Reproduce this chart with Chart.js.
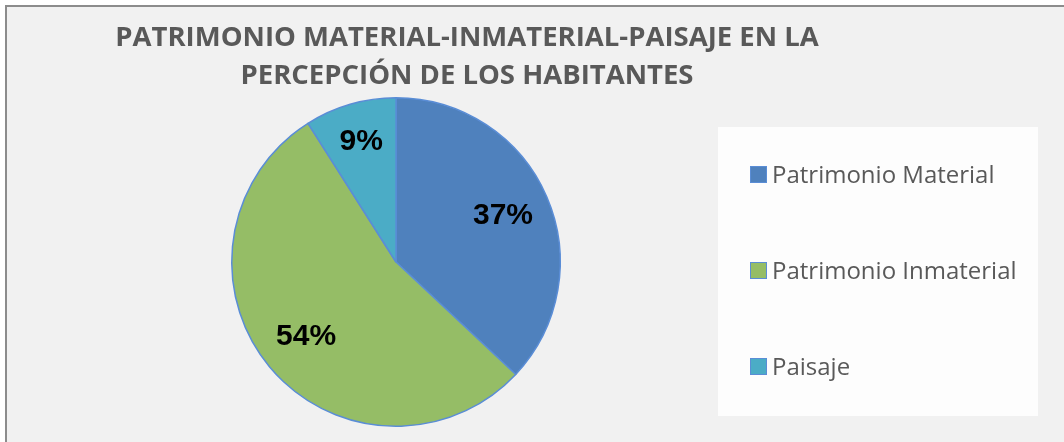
<!DOCTYPE html>
<html>
<head>
<meta charset="utf-8">
<script src="https://cdn.jsdelivr.net/npm/chart.js@4"></script>
<style>
  html, body { margin: 0; padding: 0; background: #ffffff; }
  #frame {
    position: absolute; left: 5px; top: 5px; width: 1100px; height: 480px;
    border-left: 2px solid #8c8c8c; border-top: 2px solid #8c8c8c;
    background: #f1f1f1;
  }
  #chart { position: absolute; left: 0; top: 0; }
</style>
</head>
<body>
<div id="frame"></div>
<canvas id="chart" width="1064" height="442"></canvas>
<script>
const titleLines = ["PATRIMONIO MATERIAL-INMATERIAL-PAISAJE EN LA", "PERCEPCIÓN DE LOS HABITANTES"];
const categories = ["Patrimonio Material", "Patrimonio Inmaterial", "Paisaje"];
const shares = [37, 54, 9];
const sliceColors = ["#4f81bd", "#95bd66", "#4bacc6"];

// titre dessiné à la main (centré hors de la zone du graphique)
const titlePlugin = {
  id: "titleLines",
  afterDraw(chart) {
    const ctx = chart.ctx;
    ctx.save();
    ctx.font = "bold 27.5px 'Open Sans'";
    ctx.fillStyle = "#595959";
    ctx.textAlign = "center";
    ctx.textBaseline = "middle";
    titleLines.forEach((line, i) => {
      ctx.fillText(line, 467, 38 + i * 38);
    });
    ctx.restore();
  }
};

// légende dans un cadre blanc à droite
const legendPlugin = {
  id: "legendBlock",
  beforeDraw(chart) {
    const ctx = chart.ctx;
    ctx.save();
    ctx.fillStyle = "#fdfdfd";
    ctx.fillRect(718, 127, 320, 289);
    ctx.restore();
  },
  afterDraw(chart) {
    const ctx = chart.ctx;
    const ds = chart.data.datasets[0];
    ctx.save();
    ctx.font = "24px 'Open Sans'";
    ctx.textBaseline = "middle";
    chart.data.labels.forEach((label, i) => {
      const y = 175 + i * 96;
      ctx.fillStyle = ds.backgroundColor[i];
      ctx.fillRect(751, y - 8, 15, 15);
      ctx.strokeStyle = "#5a8dd6";
      ctx.lineWidth = 1;
      ctx.strokeRect(750.5, y - 8.5, 16, 16);
      ctx.fillStyle = "#595959";
      ctx.fillText(label, 772, y + 1);
    });
    ctx.restore();
  }
};

// pourcentages sur les parts
const sliceLabels = {
  id: "sliceLabels",
  afterDatasetsDraw(chart) {
    const ctx = chart.ctx;
    const meta = chart.getDatasetMeta(0);
    ctx.save();
    ctx.font = "bold 30px 'Liberation Sans', Arial";
    ctx.fillStyle = "#000000";
    ctx.textAlign = "center";
    ctx.textBaseline = "middle";
    meta.data.forEach((arc, i) => {
      const p = arc.getProps(["x", "y", "startAngle", "endAngle", "outerRadius"], true);
      const mid = (p.startAngle + p.endAngle) / 2;
      // petite part : étiquette un peu plus vers le bord
      const r = p.outerRadius * (shares[i] < 15 ? 0.76 : 0.71);
      ctx.fillText(shares[i] + "%", p.x + Math.cos(mid) * r, p.y + Math.sin(mid) * r);
    });
    ctx.restore();
  }
};

new Chart(document.getElementById("chart").getContext("2d"), {
  type: "pie",
  data: {
    labels: categories,
    datasets: [{
      data: shares,
      backgroundColor: sliceColors,
      borderColor: "#5a8dd6",
      borderWidth: 1.5
    }]
  },
  options: {
    responsive: false,
    animation: false,
    layout: { padding: { top: 97, bottom: 15, left: 231, right: 503 } },
    plugins: {
      legend: { display: false },
      title: { display: false },
      tooltip: { enabled: false }
    }
  },
  plugins: [legendPlugin, sliceLabels, titlePlugin]
});
</script>
</body>
</html>
